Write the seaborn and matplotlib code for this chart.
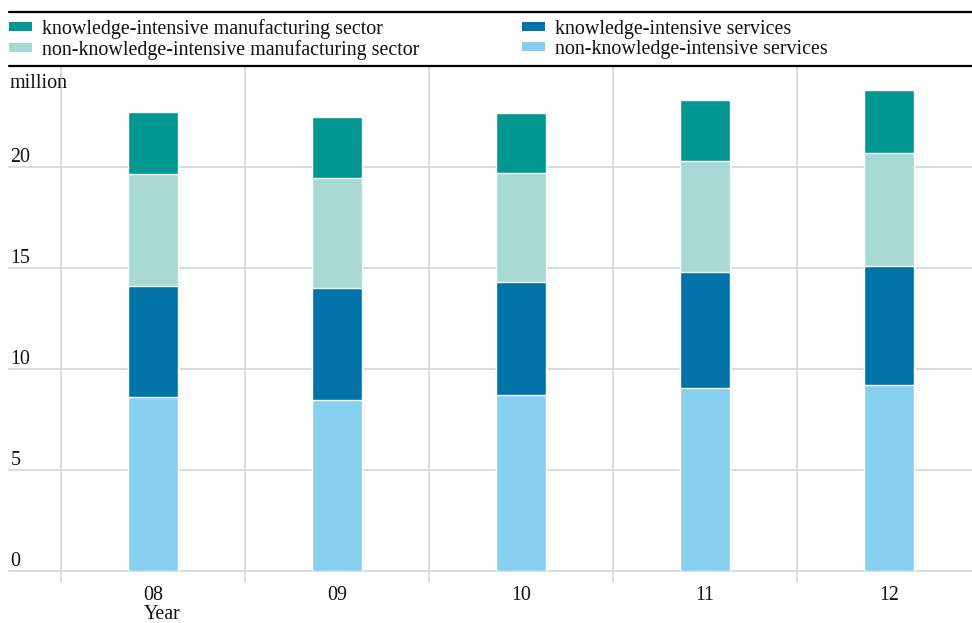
import matplotlib
matplotlib.use("Agg")
import matplotlib.pyplot as plt
from matplotlib.lines import Line2D
from matplotlib.patches import Patch
import numpy as np
import pandas as pd
import seaborn as sns

years = ["08", "09", "10", "11", "12"]
non_ki_services = [8.61, 8.47, 8.71, 9.06, 9.21]
ki_services = [5.50, 5.54, 5.60, 5.74, 5.89]
non_ki_manufacturing = [5.54, 5.45, 5.39, 5.50, 5.59]
ki_manufacturing = [3.07, 3.02, 2.97, 3.02, 3.12]

series_names = [
    "knowledge-intensive manufacturing sector",
    "non-knowledge-intensive manufacturing sector",
    "knowledge-intensive services",
    "non-knowledge-intensive services",
]
colors = {
    series_names[0]: "#009790",
    series_names[1]: "#a8d8d4",
    series_names[2]: "#0073a8",
    series_names[3]: "#87cfee",
}
y_ticks = [0, 5, 10, 15, 20]

sns.set_theme(style="white")
plt.rcParams["font.family"] = ["Liberation Serif", "DejaVu Serif"]
FS = 14.4
TXT = "#111111"

W, H = 972, 623
fig = plt.figure(figsize=(W / 100, H / 100), dpi=100)
ax_left, ax_right, ax_top, ax_bot = 9, 972, 66, 571
ax = fig.add_axes([ax_left / W, 1 - ax_bot / H, (ax_right - ax_left) / W, (ax_bot - ax_top) / H])

# stacked bars via cumulative layers (bottom to top order)
layers = [
    (series_names[3], non_ki_services),
    (series_names[2], ki_services),
    (series_names[1], non_ki_manufacturing),
    (series_names[0], ki_manufacturing),
]
cum = np.cumsum(np.array([l[1] for l in layers]), axis=0)
for i in range(len(layers) - 1, -1, -1):
    name = layers[i][0]
    df = pd.DataFrame({"year": years, "value": cum[i]})
    sns.barplot(data=df, x="year", y="value", color=colors[name], saturation=1,
                width=0.27, edgecolor="white", linewidth=1.0, ax=ax, zorder=3)

ax.set_xlim(-0.783, 4.451)
ax.set_ylim(0, 25)
for s in ax.spines.values():
    s.set_visible(False)
ax.set_xlabel("")
ax.set_ylabel("")
ax.set_yticks([])
ax.tick_params(axis="x", length=0, pad=11, labelsize=FS, colors=TXT)

grid_c = "#d9d9d9"
for v in y_ticks:
    ax.axhline(v, color=grid_c, lw=1.3, zorder=1, clip_on=False)
    ax.annotate(str(v), xy=(0, v), xycoords=("axes fraction", "data"),
                xytext=(1, -0.3), textcoords="offset points",
                ha="left", va="bottom", fontsize=FS, color=TXT)
for b in [-0.5, 0.5, 1.5, 2.5, 3.5]:
    ax.axvline(b, ymin=-11 / (ax_bot - ax_top), ymax=1, color=grid_c, lw=1.3,
               zorder=1, clip_on=False)

# top rules
for yy in [11.5, 66]:
    fig.add_artist(Line2D([9 / W, 1], [1 - yy / H, 1 - yy / H], color="black", lw=1.6,
                          transform=fig.transFigure))

fig.text(10 / W, 1 - 88 / H, "million", fontsize=FS, ha="left", va="baseline", color=TXT)
fig.text(162 / W, 1 - 614.5 / H, "Year", fontsize=FS, ha="center", va="center", color=TXT)

handles = [Patch(facecolor=colors[n], edgecolor="none", label=n) for n in series_names]
fig.legend(handles=handles, loc="upper left", bbox_to_anchor=(1 / W, 1 - 11 / H), ncol=2,
           frameon=False, fontsize=FS, handlelength=1.15, handleheight=0.35,
           handletextpad=0.48, columnspacing=5.15, labelspacing=0.05, borderaxespad=0,
           labelcolor=TXT)

fig.savefig("out.png", dpi=100)
